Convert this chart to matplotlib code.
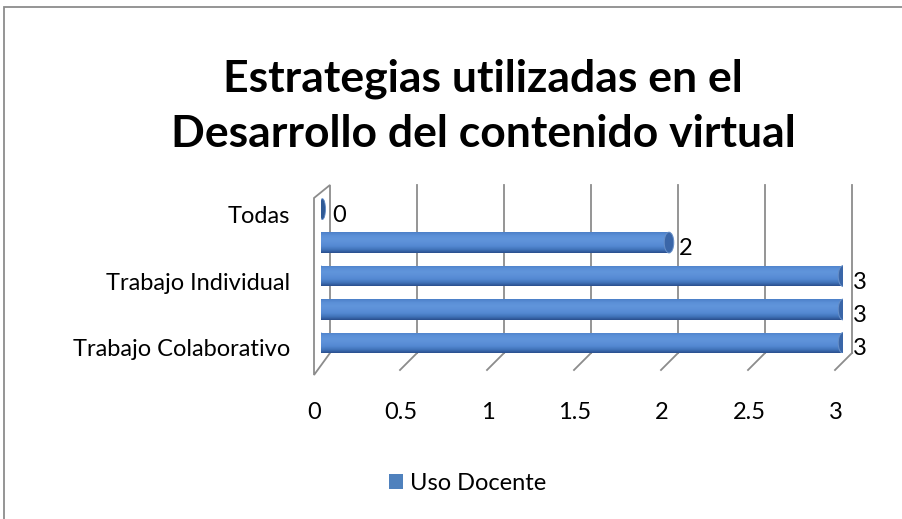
import numpy as np
import matplotlib
matplotlib.use("Agg")
import matplotlib.pyplot as plt
import matplotlib.transforms as mtransforms
from matplotlib.patches import Ellipse, Rectangle, Polygon
from matplotlib.colors import LinearSegmentedColormap

plt.rcParams['font.family'] = ['Lato', 'DejaVu Sans']

title = "Estrategias utilizadas en el\nDesarrollo del contenido virtual"
categories = ["Trabajo Colaborativo", "", "Trabajo Individual", "", "Todas"]
values = [3, 3, 3, 2, 0]
series_name = "Uso Docente"
xticks = [0, 0.5, 1, 1.5, 2, 2.5, 3]
xticklabels = ["0", "0.5", "1", "1.5", "2", "2.5", "3"]

W, H = 903, 519
fig = plt.figure(figsize=(W / 100, H / 100), dpi=100)

# plot area (pixels): x 321..843 for 0..3, y 185..353
ax = fig.add_axes([321 / W, (H - 353) / H, 522 / W, 168 / H])
ax.set_xlim(0, 3)
ax.set_ylim(-0.3, 4.72)
for s in ax.spines.values():
    s.set_visible(False)

grid_c = '#8c8c8c'
back = mtransforms.offset_copy(ax.transData, fig, x=9, y=0, units='dots')
ytop, ybot = 4.72, -0.3

# left side wall
lw_back = ax.transData.transform([(0, ytop), (0, ybot)]) + [9, 0]
lw_front = ax.transData.transform([(0, ybot), (0, ytop)]) + [-7, -22]
lw_front[1] = ax.transData.transform((0, ytop)) + [-7, -13]
wall = Polygon(np.vstack([lw_back, lw_front]), closed=True, fill=False,
               edgecolor=grid_c, lw=1.3, transform=None, clip_on=False)
ax.add_artist(wall)

# gridlines on the back wall with floor diagonals
for v in xticks[1:]:
    ax.plot([v, v], [ybot, ytop], color=grid_c, lw=1.3, transform=back, clip_on=False)
    p0 = ax.transData.transform((v, ybot)) + [9, 0]
    p1 = ax.transData.transform((v, ybot)) + [-8, -17]
    ax.plot([p0[0], p1[0]], [p0[1], p1[1]], color=grid_c, lw=1.3, transform=None, clip_on=False)

# cylinder bars
cmap = LinearSegmentedColormap.from_list(
    'cyl', ['#2a4f8e', '#4275bb', '#5489d2', '#5c90d8', '#6095db', '#5c90d8', '#4c80c8'])
grad = np.linspace(0, 1, 64).reshape(-1, 1)
bh = 0.62
cap_w = 0.055
bars = ax.barh(range(len(values)), values, height=bh, color='none', edgecolor='none')
for i, (b, v) in enumerate(zip(bars, values)):
    y0 = i - bh / 2
    if v > 0:
        im = ax.imshow(grad, cmap=cmap, aspect='auto', origin='lower',
                       extent=(0, v, y0, y0 + bh), zorder=2)
        im.set_clip_path(b)
        lcap = Ellipse((0, i), cap_w, bh, facecolor='none', edgecolor='none')
        ax.add_patch(lcap)
        im2 = ax.imshow(grad, cmap=cmap, aspect='auto', origin='lower',
                        extent=(-cap_w / 2, cap_w / 2, y0, y0 + bh), zorder=2)
        im2.set_clip_path(lcap)
        ax.add_patch(Ellipse((v, i), cap_w, bh, facecolor='#3a66a8',
                             edgecolor='#6890c8', lw=0.7, zorder=3))
    else:
        ax.add_patch(Ellipse((v + 0.008, i), 0.035, bh, facecolor='#2f5a96',
                             edgecolor='#5b86c4', lw=0.6, zorder=3))
    ax.annotate(str(v), (v, i), xytext=(10 if v > 0 else 11, -6), textcoords='offset pixels',
                ha='left', va='center', fontsize=17, color='black')

ax.set_xlim(0, 3)
ax.set_ylim(-0.3, 4.72)

# category labels
ax.set_yticks(range(len(categories)))
ax.set_yticklabels(categories, fontsize=17)
ax.tick_params(axis='y', length=0, pad=22)
for lab in ax.get_yticklabels():
    lab.set_transform(lab.get_transform() + mtransforms.ScaledTranslation(0, -0.05, fig.dpi_scale_trans))

ax.set_xticks(xticks)
ax.set_xticklabels(xticklabels, fontsize=17)
ax.tick_params(axis='x', length=0, pad=35)
for lab in ax.get_xticklabels():
    lab.set_transform(lab.get_transform() + mtransforms.ScaledTranslation(-0.07, 0, fig.dpi_scale_trans))

fig.text(483 / W, 1 - 106 / H, title, ha='center', va='center', fontsize=32,
         fontweight='bold', linespacing=1.45)

handle = Rectangle((0, 0), 1, 1, facecolor='#4f81bd')
fig.legend([handle], [series_name], loc='center', bbox_to_anchor=(468 / W, 1 - 483 / H),
           frameon=False, fontsize=17, handlelength=0.6, handleheight=0.6, handletextpad=0.3)

fig.patches.append(Rectangle((4 / W, -0.05), 1.2, 1 - 7 / H + 0.05, fill=False,
                             edgecolor='#8c8c8c', lw=1.3, transform=fig.transFigure))

fig.savefig('out.png', dpi=100)
